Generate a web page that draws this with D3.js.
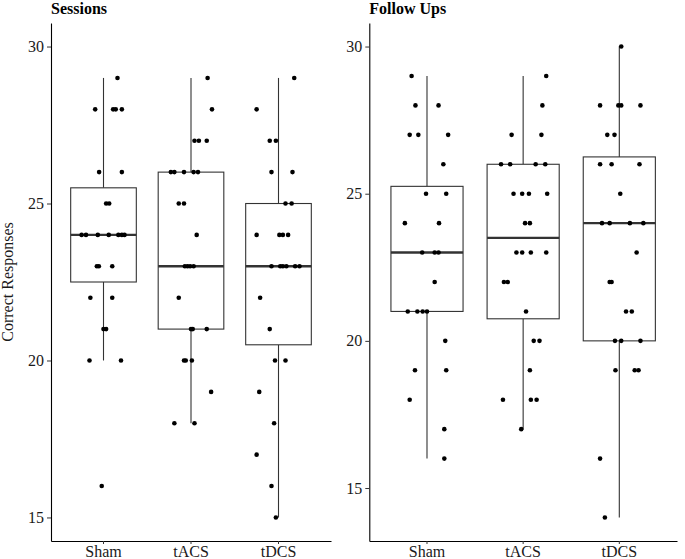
<!DOCTYPE html>
<html>
<head>
<meta charset="utf-8">
<script src="https://cdn.jsdelivr.net/npm/d3@7"></script>
<style>
  html, body { margin: 0; padding: 0; background: #fff; }
  svg { display: block; }
  text { font-family: "Liberation Serif", "Times New Roman", serif; }
</style>
</head>
<body>
<svg id="chart" width="685" height="559"></svg>
<script>
// ---------- data ----------
const categories = ["Sham", "tACS", "tDCS"];
const panelTitles = ["Sessions", "Follow Ups"];
const yTickValues = [15, 20, 25, 30];
const yLabel = "Correct Responses";

// points: [value, jitter offset in category units]
const sessionsSham = [[29,0.16],[28,-0.095],[28,0.11],[28,0.14],[28,0.21],[26,-0.05],[26,0.21],[25,0.03],[25,0.065],
  [24,-0.25],[24,-0.2],[24,-0.065],[24,0.06],[24,0.17],[24,0.21],[24,0.24],[23,-0.076],[23,-0.053],[23,0.10],
  [22,-0.15],[22,0.10],[21,0],[21,0.03],[20,-0.16],[20,0.2],[16,-0.02]];
const sessionsTACS = [[29,0.19],[28,0.24],[27,0.04],[27,0.09],[27,0.18],[26,-0.23],[26,-0.19],[26,-0.08],[26,0.03],[26,0.08],
  [25,-0.14],[25,-0.08],[24,0.065],[23,-0.07],[23,-0.04],[23,-0.01],[23,0.03],[22,-0.14],[21,0],[21,0.02],[21,0.18],
  [20,-0.08],[20,-0.06],[20,0.01],[19,0.23],[18,-0.19],[18,0.04]];
const sessionsTDCS = [[29,0.18],[28,-0.25],[27,-0.10],[27,-0.03],[26,-0.08],[26,0.16],[25,0.08],[25,0.15],
  [24,-0.25],[24,0.01],[24,0.05],[24,0.11],[23,-0.08],[23,0.02],[23,0.05],[23,0.09],[23,0.19],[23,0.24],
  [22,-0.21],[21,-0.10],[20,-0.04],[20,0.08],[19,-0.22],[18,-0.05],[17,-0.25],[16,-0.08],[15,-0.03]];

const followSham = [[29,-0.16],[28,-0.12],[28,0.12],[27,-0.18],[27,-0.09],[27,0.22],[26,0.17],[25,-0.01],[25,0.2],
  [24,-0.23],[24,0.125],[23,-0.05],[23,0.08],[23,0.12],[22,0.08],[21,-0.2],[21,-0.1],[21,-0.045],[21,0],
  [20,0.19],[19,-0.125],[19,0.2],[18,-0.18],[17,0.18],[16,0.18]];
const followTACS = [[29,0.24],[28,0.2],[27,-0.12],[27,0.19],[26,-0.23],[26,-0.135],[26,0.13],[26,0.23],
  [25,-0.1],[25,-0.01],[25,0.06],[25,0.25],[24,0.02],[24,0.07],[23,-0.07],[23,-0.01],[23,0.08],[23,0.24],
  [22,-0.2],[22,-0.16],[21,0.03],[20,0.11],[20,0.17],[19,0.07],[18,-0.21],[18,0.08],[18,0.14],[17,-0.02]];
const followTDCS = [[30,0.02],[28,-0.2],[28,-0.01],[28,0.02],[28,0.22],[27,-0.125],[27,-0.05],[26,-0.2],[26,-0.08],[26,0.21],
  [25,0.01],[24,-0.18],[24,-0.1],[24,0.11],[24,0.25],[23,0.18],[22,-0.1],[22,-0.08],[21,0.07],[21,0.13],
  [20,-0.045],[20,0.02],[20,0.22],[19,-0.04],[19,0.16],[19,0.2],[16,-0.2],[14,-0.15]];

// box statistics per category
const sessionsLower  = [20, 18, 15];
const sessionsQ1     = [22.5, 21, 20.5];
const sessionsMedian = [24, 23, 23];
const sessionsQ3     = [25.5, 26, 25];
const sessionsUpper  = [29, 29, 29];

const followLower  = [16, 17, 14];
const followQ1     = [21, 20.75, 20];
const followMedian = [23, 23.5, 24];
const followQ3     = [25.25, 26, 26.25];
const followUpper  = [29, 29, 30];

const sessionsDomain = [14.25, 30.75];
const followDomain = [13.2, 30.8];

// ---------- build ----------
const panels = [
  { title: panelTitles[0], points: [sessionsSham, sessionsTACS, sessionsTDCS],
    lower: sessionsLower, q1: sessionsQ1, median: sessionsMedian, q3: sessionsQ3, upper: sessionsUpper,
    domain: sessionsDomain, x0: 51, x1: 331 },
  { title: panelTitles[1], points: [followSham, followTACS, followTDCS],
    lower: followLower, q1: followQ1, median: followMedian, q3: followQ3, upper: followUpper,
    domain: followDomain, x0: 369.3, x1: 677 }
];

const plotTop = 23, plotBottom = 541;
const svg = d3.select("#chart");
const ink = "#1a1a1a", boxStroke = "#333333";

panels.forEach((p, pi) => {
  const x = d3.scaleBand().domain(categories).range([p.x0, p.x1]).paddingInner(0).paddingOuter(0.1);
  const y = d3.scaleLinear().domain(p.domain).range([plotBottom, plotTop]);
  const step = x.step();
  const bw = step * 0.75;
  const g = svg.append("g");

  // boxes
  categories.forEach((c, i) => {
    const cx = x(c) + x.bandwidth() / 2;
    g.append("line").attr("x1", cx).attr("x2", cx)
      .attr("y1", y(p.q3[i])).attr("y2", y(p.upper[i]))
      .attr("stroke", boxStroke).attr("stroke-width", 1.1);
    g.append("line").attr("x1", cx).attr("x2", cx)
      .attr("y1", y(p.q1[i])).attr("y2", y(p.lower[i]))
      .attr("stroke", boxStroke).attr("stroke-width", 1.1);
    g.append("rect").attr("x", cx - bw / 2).attr("width", bw)
      .attr("y", y(p.q3[i])).attr("height", y(p.q1[i]) - y(p.q3[i]))
      .attr("fill", "#fff").attr("stroke", boxStroke).attr("stroke-width", 1.1);
    g.append("line").attr("x1", cx - bw / 2).attr("x2", cx + bw / 2)
      .attr("y1", y(p.median[i])).attr("y2", y(p.median[i]))
      .attr("stroke", boxStroke).attr("stroke-width", 2.4);
  });

  // points
  categories.forEach((c, i) => {
    const cx = x(c) + x.bandwidth() / 2;
    g.selectAll(null).data(p.points[i]).enter().append("circle")
      .attr("cx", d => cx + d[1] * step)
      .attr("cy", d => y(d[0]))
      .attr("r", 2.3)
      .attr("fill", "#000");
  });

  // axes
  const ya = g.append("g").attr("transform", `translate(${p.x0},0)`)
    .call(d3.axisLeft(y).tickValues(yTickValues).tickSize(4).tickSizeOuter(0).tickPadding(3));
  const xa = g.append("g").attr("transform", `translate(0,${plotBottom})`)
    .call(d3.axisBottom(x).tickSize(3).tickSizeOuter(0).tickPadding(1.5));
  [ya, xa].forEach(a => {
    a.select(".domain").attr("stroke", "#000").attr("stroke-width", 1.1);
    a.selectAll(".tick line").attr("stroke", "#333").attr("stroke-width", 1);
    a.selectAll(".tick text").attr("font-size", 16).attr("fill", ink)
      .attr("font-family", "Liberation Serif, serif");
  });

  // title
  svg.append("text").attr("x", p.x0).attr("y", 14)
    .attr("font-size", 16).attr("font-weight", "bold").attr("fill", "#000")
    .text(p.title);
});

// y label
svg.append("text")
  .attr("transform", `translate(12.5,${(plotTop + plotBottom) / 2}) rotate(-90)`)
  .attr("text-anchor", "middle")
  .attr("font-size", 16).attr("fill", ink)
  .text(yLabel);
</script>
</body>
</html>
